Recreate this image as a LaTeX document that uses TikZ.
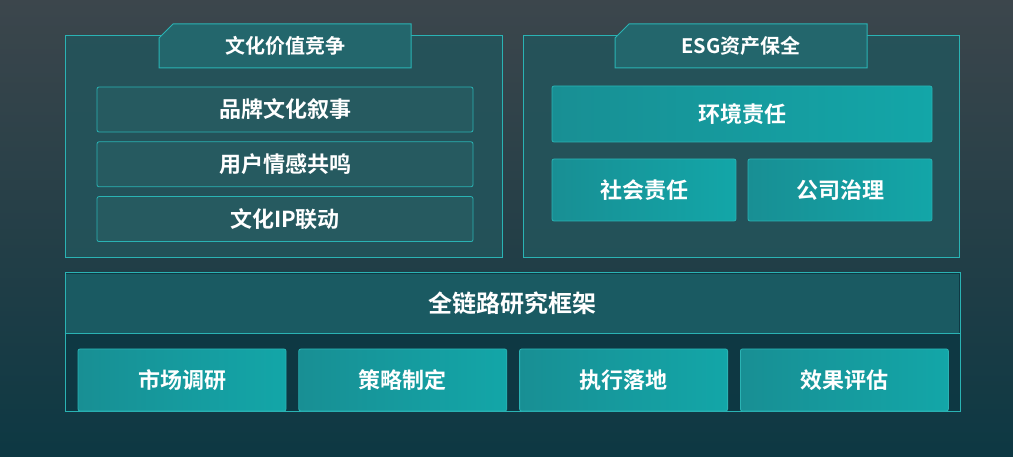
\documentclass[tikz,border=0pt]{standalone}
\usepackage{fontspec}
\setmainfont{Noto Sans CJK SC}[BoldFont={Noto Sans CJK SC Bold}]
\usetikzlibrary{shapes.misc, positioning}
\definecolor{bgtop}{HTML}{3C464C}
\definecolor{bgbot}{HTML}{0D3843}
\definecolor{edge}{HTML}{2AB3B4}
\definecolor{panelfill}{HTML}{23555C}
\definecolor{boxfill}{HTML}{265A60}
\definecolor{tabfill}{HTML}{23666C}
\definecolor{bandfill}{HTML}{1A5A62}
\definecolor{cardleft}{HTML}{188F94}
\definecolor{cardright}{HTML}{13A6A8}

\tikzset{
  panel/.style={chamfered rectangle, chamfered rectangle sep=4pt, draw=edge, line width=1pt, fill=panelfill, fill opacity=0.85, inner sep=0pt},
  tab/.style={chamfered rectangle, chamfered rectangle corners=north west, chamfered rectangle sep=7pt, draw=edge, line width=1pt, fill=tabfill, text=white, font=\bfseries\fontsize{20}{24}\selectfont, inner sep=0pt},
  linebox/.style={draw=edge, line width=0.8pt, fill=boxfill, rounded corners=2pt, text=white, font=\bfseries\fontsize{22}{26}\selectfont, inner sep=0pt},
  card/.style={draw=edge, line width=0.8pt, left color=cardleft, right color=cardright, rounded corners=2pt, text=white, font=\bfseries\fontsize{22}{26}\selectfont, inner sep=0pt}
}

\begin{document}
\begin{tikzpicture}[x=1pt, y=-1pt]
  \shade[top color=bgtop, bottom color=bgbot] (0,0) rectangle (1013,457);
  \useasboundingbox (0,0) rectangle (1013,457);

  % culture panel
  \node[panel, minimum width=437pt, minimum height=222pt] (culture) at (283.5,147) {};
  \node[tab, minimum width=252pt, minimum height=44pt] (cultureTab) at (285,46) {文化价值竞争};
  \node[linebox, minimum width=376pt, minimum height=45pt] (story) at (285,109.5) {品牌文化叙事};
  \node[linebox, minimum width=376pt, minimum height=45pt, below=9pt of story] (emotion) {用户情感共鸣};
  \node[linebox, minimum width=376pt, minimum height=45pt, below=9pt of emotion] (ipLink) {文化IP联动};

  % esg panel
  \node[panel, minimum width=436pt, minimum height=222pt] (esg) at (741,147) {};
  \node[tab, minimum width=252pt, minimum height=44pt] (esgTab) at (741,46) {ESG资产保全};
  \node[card, minimum width=380pt, minimum height=56pt] (env) at (742,114) {环境责任};
  \node[card, minimum width=184pt, minimum height=62pt] (social) at (644,190) {社会责任};
  \node[card, minimum width=184pt, minimum height=62pt] (govern) at (840,190) {公司治理};

  % framework panel
  \node[panel, fill=bgbot, minimum width=895pt, minimum height=138pt] (frame) at (512.5,342) {};
  \fill[bandfill] (66,274) rectangle (959,334);
  \draw[edge, line width=1pt] (frame.west |- 0,334) -- (frame.east |- 0,334);
  \node[text=white, font=\bfseries\fontsize{24}{28}\selectfont] (frameTitle) at (512.5,303.5) {全链路研究框架};
  \node[card, minimum width=208pt, minimum height=62pt] (survey) at (182,380) {市场调研};
  \node[card, minimum width=208pt, minimum height=62pt, right=12pt of survey] (plan) {策略制定};
  \node[card, minimum width=208pt, minimum height=62pt, right=12pt of plan] (execute) {执行落地};
  \node[card, minimum width=208pt, minimum height=62pt, right=12pt of execute] (assess) {效果评估};
\end{tikzpicture}
\end{document}
